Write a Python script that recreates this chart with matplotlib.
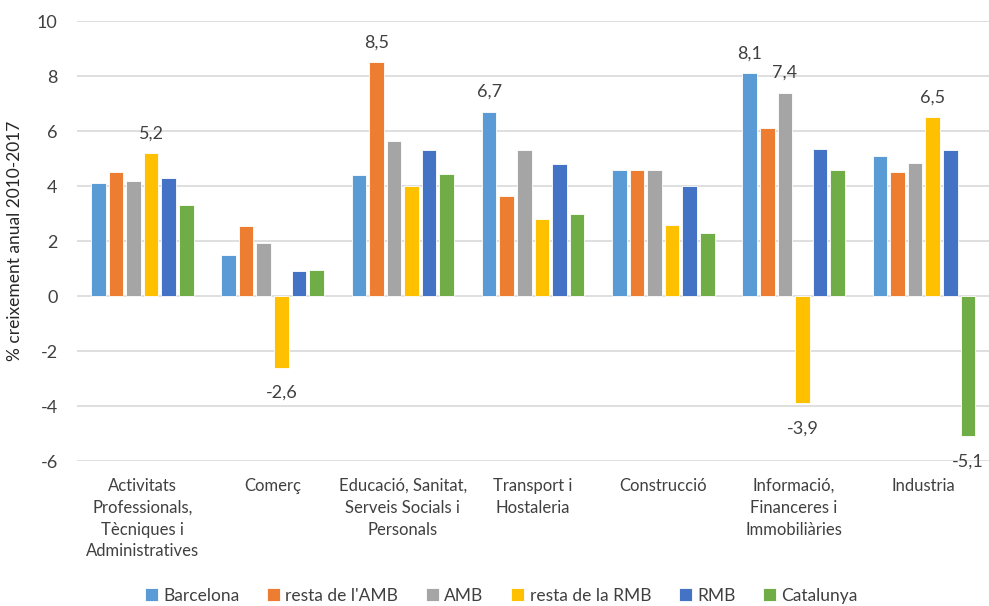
import matplotlib
matplotlib.use('Agg')
import matplotlib.pyplot as plt
import numpy as np

plt.rcParams['font.family'] = ['Lato', 'DejaVu Sans']
plt.rcParams['axes.unicode_minus'] = False

categories = ["Activitats\nProfessionals,\nTècniques i\nAdministratives",
              "Comerç",
              "Educació, Sanitat,\nServeis Socials i\nPersonals",
              "Transport i\nHostaleria",
              "Construcció",
              "Informació,\nFinanceres i\nImmobiliàries",
              "Industria"]
series_names = ["Barcelona", "resta de l'AMB", "AMB", "resta de la RMB", "RMB", "Catalunya"]
barcelona = [4.1, 1.5, 4.4, 6.7, 4.6, 8.1, 5.1]
resta_amb = [4.5, 2.55, 8.5, 3.65, 4.6, 6.1, 4.5]
amb = [4.2, 1.95, 5.65, 5.3, 4.6, 7.4, 4.85]
resta_rmb = [5.2, -2.6, 4.0, 2.8, 2.6, -3.9, 6.5]
rmb = [4.3, 0.9, 5.3, 4.8, 4.0, 5.35, 5.3]
catalunya = [3.3, 0.95, 4.45, 3.0, 2.3, 4.6, -5.1]
colors = ["#5B9BD5", "#ED7D31", "#A5A5A5", "#FFC000", "#4472C4", "#70AD47"]

# (category index, series index, text) for the values that carry a label
labelled = [(0, 3, "5,2"), (1, 3, "-2,6"), (2, 1, "8,5"), (3, 0, "6,7"),
            (5, 0, "8,1"), (5, 2, "7,4"), (5, 3, "-3,9"), (6, 3, "6,5"),
            (6, 5, "-5,1")]

all_series = [barcelona, resta_amb, amb, resta_rmb, rmb, catalunya]

fig = plt.figure(figsize=(9.89, 6.06), dpi=100)
ax = fig.add_axes([0.078, 0.239, 0.922, 0.726])

x = np.arange(len(categories))
pitch = 0.135
width = 0.112
bars = []
for i, (name, vals) in enumerate(zip(series_names, all_series)):
    offs = (i - 2.5) * pitch
    b = ax.bar(x + offs, vals, width, color=colors[i], label=name,
               edgecolor='white', linewidth=0.6, zorder=3)
    bars.append(b)

for ci, si, txt in labelled:
    val = all_series[si][ci]
    xpos = ci + (si - 2.5) * pitch
    dy = 20 if val > 0 else -25
    ax.annotate(txt, (xpos, val), xytext=(0, dy), textcoords='offset pixels',
                ha='center', va='center', fontsize=13, color='#404040', zorder=4)

ax.set_xlim(-0.5, len(categories) - 0.5)
ax.set_ylim(-6, 10)
ax.set_yticks(range(-6, 11, 2))
ax.set_xticks(x)
ax.set_xticklabels(categories, fontsize=12, color='#404040', linespacing=1.45)
ax.tick_params(axis='y', labelsize=13, colors='#404040', length=0, pad=14)
ax.tick_params(axis='x', length=0, pad=12)
ax.grid(axis='y', color='#D9D9D9', linewidth=1.2, zorder=0)
for s in ax.spines.values():
    s.set_visible(False)
ax.set_ylabel("% creixement anual 2010-2017", fontsize=12.5, color='#262626',
              labelpad=10)

fig.legend(handles=bars, labels=series_names, loc='center', ncol=6,
           bbox_to_anchor=(0.507, 0.017), frameon=False, fontsize=12.5,
           handlelength=0.75, handleheight=0.75, handletextpad=0.3,
           columnspacing=1.6, labelcolor='#404040')

fig.savefig('out.png', dpi=100)
